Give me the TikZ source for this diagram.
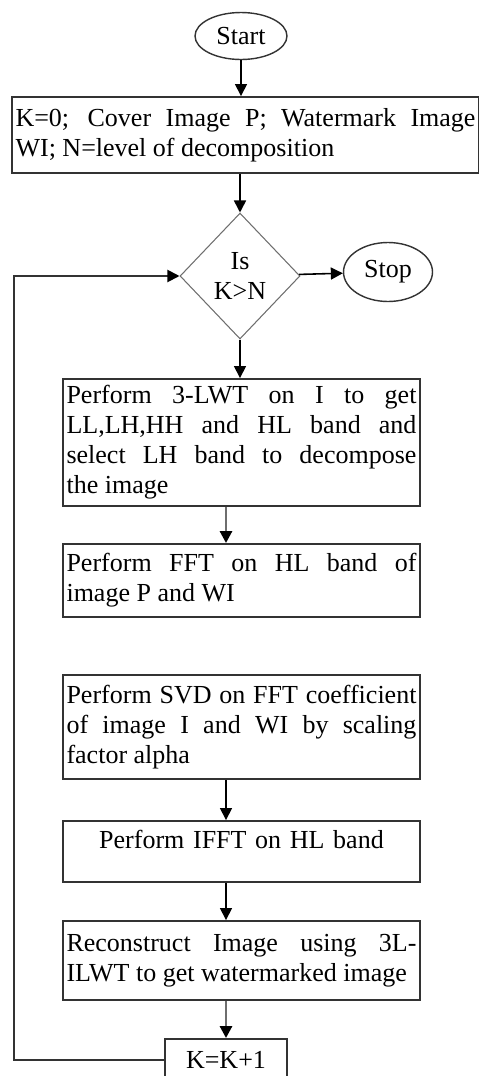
\documentclass[tikz,border=0pt]{standalone}
\usepackage{fontspec}
\setmainfont{Liberation Serif}
\usepackage{tikz}
\usetikzlibrary{arrows.meta,positioning,shapes.geometric}
\usepackage{xcolor}
\definecolor{fline}{HTML}{333333}
\definecolor{fgray}{HTML}{6E6E6E}

\begin{document}
\begin{tikzpicture}[x=0.02cm, y=-0.02cm, font=\fontsize{14.8}{17.1}\selectfont,
  stepbox/.style={draw=fline, line width=1.1pt, text width=7.0cm, inner xsep=0.07cm,
                  align=justify},
  term/.style={draw=fline, ellipse, line width=0.8pt, inner sep=0pt},
  arr/.style={line width=0.9pt, -{Triangle[length=0.24cm,width=0.24cm]}},
  garr/.style={draw=fgray, line width=1.6pt, -{Triangle[length=0.24cm,width=0.24cm,color=black]}}]
\useasboundingbox (0,0) rectangle (479,1076);
\clip (0,0) rectangle (479,1076);
% =================== top: start, inputs, test ===================
\node[term, minimum width=1.84cm, minimum height=0.94cm] (start) at (241,36) {Start};
\node[stepbox, text width=9.2cm, minimum height=1.52cm] (init) at (245.5,135)
   {K=0; Cover Image P; Watermark Image\linebreak WI; N=level of decomposition};
\node[diamond, draw=fgray, line width=0.6pt, minimum width=2.4cm, minimum height=2.52cm,
      inner sep=0pt, align=center] (test) at (240,276) {Is\\K>N};
\node[term, minimum width=1.78cm, minimum height=1.18cm] (stop) at (388,272) {Stop};
% =================== loop body ===================
\node[stepbox, minimum height=2.54cm] (lwt) at (241.5,442.5)
   {Perform 3-LWT on I to get\linebreak LL,LH,HH and HL band and\linebreak
    select LH band to decompose\linebreak the image};
\node[stepbox, minimum height=1.46cm] (fft) at (241.5,580.5)
   {Perform FFT on HL band of\linebreak image P and WI};
\node[stepbox, minimum height=2.08cm] (svd) at (241.5,727)
   {Perform SVD on FFT coefficient\linebreak of image I and WI by scaling\linebreak
    factor alpha};
\node[stepbox, align=center, minimum height=1.22cm, inner ysep=0pt, text depth=0.5cm]
   (ifft) at (241.5,851.5) {Perform IFFT on HL band};
\node[stepbox, minimum height=1.58cm] (rec) at (241.5,960.5)
   {Reconstruct Image using 3L-\linebreak ILWT to get watermarked image};
\node[draw=fline, line width=1.1pt, minimum width=2.44cm, minimum height=0.84cm,
      inner sep=0pt] (kk) at (226,1060) {K=K+1};
% =================== connectors ===================
\draw[arr] (start.south) -- (start.south |- init.north);
\draw[arr] (test.north |- init.south) -- (test.north);
\draw[arr] (test) -- (stop);
\draw[arr] (test.south) -- (test.south |- lwt.north);
\draw[garr] (lwt.south -| kk.north) -- (fft.north -| kk.north);
\foreach \a/\b in {svd/ifft, ifft/rec}{
  \draw[arr] (\a.south -| kk.north) -- (\b.north -| kk.north);
}
\draw[garr] (rec.south -| kk.north) -- (kk.north);
% back to the test
\coordinate (back) at (14,276);
\draw[draw=fline, line width=1.1pt, -{Triangle[length=0.24cm,width=0.24cm,color=black]}]
   (kk.west) -| (back) -- (test.west);
\end{tikzpicture}
\end{document}
